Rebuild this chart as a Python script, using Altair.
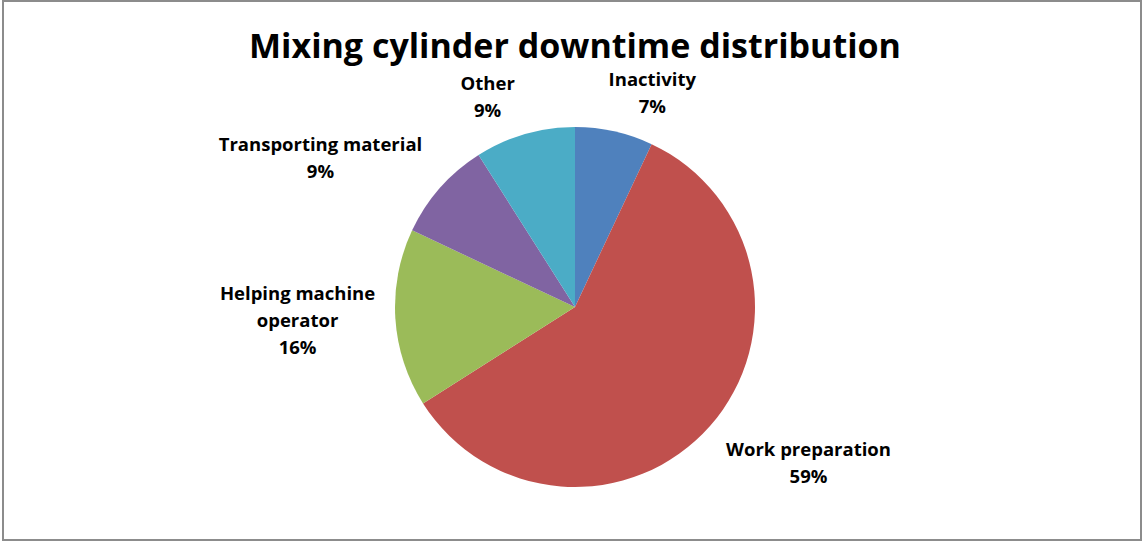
import altair as alt
import pandas as pd

# ---- data ----
categories = ["Inactivity", "Work preparation", "Helping machine operator",
              "Transporting material", "Other"]
label_text = ["Inactivity", "Work preparation", "Helping machine\noperator",
              "Transporting  material", "Other"]
shares = [7, 59, 16, 9, 9]
colors = ["#4F81BD", "#C0504D", "#9BBB59", "#8064A2", "#4BACC6"]
title_text = "Mixing cylinder downtime distribution"

df = pd.DataFrame({"category": categories, "label": label_text,
                   "share": shares, "order": list(range(len(categories)))})

CX, CY = 572, 306
FONT = "Open Sans"

theta_scale = alt.Scale(domain=[0, 100])

pie = alt.Chart(df).mark_arc(radius=180).encode(
    theta=alt.Theta("share:Q", stack=True, scale=theta_scale),
    order=alt.Order("order:Q"),
    color=alt.Color("category:N", scale=alt.Scale(domain=categories, range=colors), legend=None),
    x=alt.value(CX), y=alt.value(CY),
)

# label placement (style): radius along the slice's mid angle, then nudge
placement = {
    "Inactivity": dict(radius=226, dx=28, dy=-6),
    "Work preparation": dict(radius=278, dx=25, dy=-41),
    "Helping machine operator": dict(radius=278, dx=0, dy=-30),
    "Transporting material": dict(radius=290, dx=-37, dy=30),
    "Other": dict(radius=227, dx=-24, dy=-5),
}

layers = [pie]
for cat in categories:
    p = placement[cat]
    lab = alt.Chart(df).transform_window(
        cum="sum(share)", sort=[alt.SortField("order")]
    ).transform_calculate(
        mid="datum.cum - datum.share / 2",
        txt="datum.label + '\\n' + datum.share + '%'",
    ).transform_filter(
        alt.datum.category == cat
    ).mark_text(
        radius=p["radius"], dx=p["dx"], dy=p["dy"], lineBreak="\n",
        font=FONT, fontSize=18.5, fontWeight="bold", color="#000000",
        align="center", baseline="middle", lineHeight=27,
    ).encode(
        theta=alt.Theta("mid:Q", scale=theta_scale),
        text="txt:N",
        x=alt.value(CX), y=alt.value(CY),
    )
    layers.append(lab)

title = alt.Chart(pd.DataFrame({"t": [title_text]})).mark_text(
    font=FONT, fontSize=34, fontWeight="bold", color="#000000",
    align="center", baseline="alphabetic",
).encode(text="t:N", x=alt.value(CX), y=alt.value(57))
layers.append(title)

chart = alt.layer(*layers).properties(
    width=1138, height=539,
    autosize=alt.AutoSizeParams(type="none"),
    padding={"left": 3, "top": 1, "right": 4, "bottom": 2},
    background="white",
).configure_view(stroke="#8c8c8c", strokeWidth=2)

chart.save("out.html", embed_options={"renderer": "svg", "actions": False})
